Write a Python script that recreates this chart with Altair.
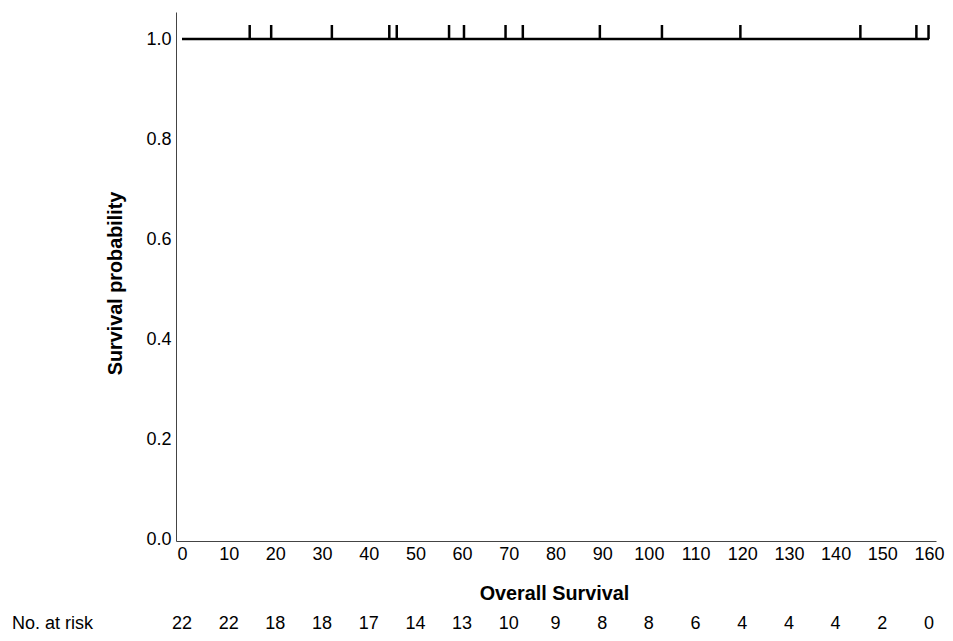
import altair as alt
import pandas as pd

# Survival curve (all at 1.0)
step_time = [0, 160]
step_surv = [1.0, 1.0]

# Censor times
censor_times = [14.5, 19.1, 32.1, 44.4, 46.0, 57.2, 60.4, 69.3, 73.0,
                89.5, 102.8, 119.6, 145.3, 157.3, 159.9]

# Number at risk
risk_times = [0, 10, 20, 30, 40, 50, 60, 70, 80, 90, 100, 110, 120, 130, 140, 150, 160]
risk_counts = [22, 22, 18, 18, 17, 14, 13, 10, 9, 8, 8, 6, 4, 4, 4, 2, 0]

FONT = "Liberation Sans"
W, H = 760, 529
LFS = 18
TFS = 19.8

xscale = alt.Scale(domain=[-1.285, 161.5], nice=False, zero=False)
yscale = alt.Scale(domain=[-0.004, 1.054], nice=False, zero=False)

line_df = pd.DataFrame({"t": step_time, "s": step_surv})
cens_df = pd.DataFrame({"t": censor_times, "s": [1.0] * len(censor_times),
                        "s2": [1.028] * len(censor_times)})
risk_df = pd.DataFrame({"t": risk_times, "n": [str(v) for v in risk_counts]})
lab_df = pd.DataFrame({"label": ["No. at risk"]})

xaxis = alt.Axis(values=list(range(0, 161, 10)), title="Overall Survival", ticks=False,
                 grid=False, labelFont=FONT, labelFontSize=LFS, labelColor="#000",
                 labelPadding=4, titleFont=FONT, titleFontSize=TFS, titleFontWeight="bold",
                 titleColor="#000", titlePadding=20, titleX=378, domainColor="#444",
                 labelFlush=False)
yaxis = alt.Axis(values=[0, 0.2, 0.4, 0.6, 0.8, 1.0], format=".1f", title="Survival probability",
                 ticks=False, grid=False, labelFont=FONT, labelFontSize=LFS, labelColor="#000",
                 labelPadding=5, titleFont=FONT, titleFontSize=TFS, titleFontWeight="bold",
                 titleColor="#000", titlePadding=20, titleY=271, domainColor="#444",
                 labelFlush=False)

line = alt.Chart(line_df).mark_line(color="black", strokeWidth=2.6, interpolate="step-after").encode(
    x=alt.X("t:Q", scale=xscale, axis=xaxis),
    y=alt.Y("s:Q", scale=yscale, axis=yaxis),
)

cens = alt.Chart(cens_df).mark_rule(color="black", strokeWidth=2.5).encode(
    x=alt.X("t:Q", scale=xscale),
    y=alt.Y("s:Q", scale=yscale),
    y2="s2:Q",
)

risk = alt.Chart(risk_df).mark_text(font=FONT, fontSize=LFS, color="black", baseline="middle").encode(
    x=alt.X("t:Q", scale=xscale),
    y=alt.value(H + 83),
    text="n:N",
)

risk_label = alt.Chart(lab_df).mark_text(font=FONT, fontSize=LFS, color="black", align="left",
                                          baseline="middle").encode(
    x=alt.value(-164),
    y=alt.value(H + 83),
    text="label:N",
)

chart = alt.layer(line, cens, risk, risk_label).properties(
    width=W, height=H,
    autosize=alt.AutoSizeParams(type="none"),
    padding={"left": 168, "top": 4, "right": 9, "bottom": 92},
).configure(background="white", view=alt.ViewConfig(stroke=None))

chart.save("out.html", embed_options={"renderer": "svg", "actions": False})
